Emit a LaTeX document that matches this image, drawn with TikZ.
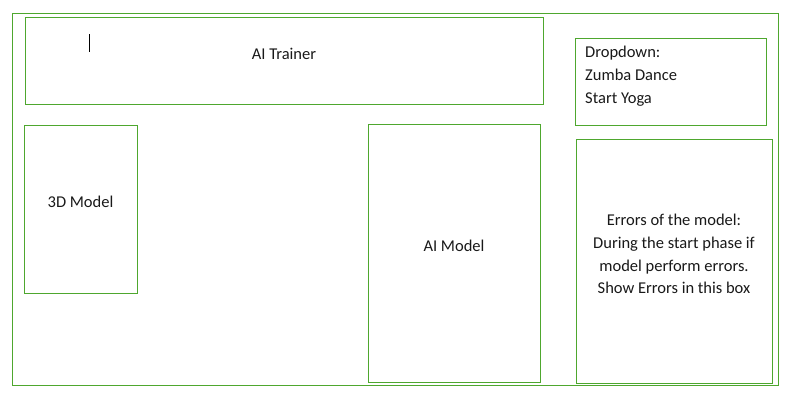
\documentclass[tikz,border=0pt]{standalone}
\usepackage{fontspec}
\setmainfont{Carlito}
\usetikzlibrary{positioning}
\definecolor{boxgreen}{HTML}{4EA72E}

\begin{document}
\begin{tikzpicture}[x=1pt, y=-1pt,
                   panel/.style={draw=boxgreen, line width=1pt, inner sep=0pt},
                   label/.style={font=\fontsize{16.5}{22.7}\selectfont, text=black!90, inner sep=0pt}]
          \useasboundingbox (0,0) rectangle (796,400);
          \node[panel, minimum width=766pt, minimum height=372pt] (frame) at (395,199) {};
          \node[panel, minimum width=518pt, minimum height=87pt] (trainer) at (284,60.5) {};
          \node[panel, minimum width=113pt, minimum height=168pt] (model3d) at (80.5,209) {};
          \node[panel, minimum width=172pt, minimum height=258pt] (aimodel) at (454,253) {};
          \node[panel, minimum width=191pt, minimum height=87pt] (dropdown) at (670.5,81.5) {};
          \node[panel, minimum width=196pt, minimum height=244pt] (errors) at (674,261) {};
          % labels
          \node[label] (trainertext) at (284,54) {AI Trainer};
          \node[label] (model3dtext) at (80.5,202) {3D Model};
          \node[label] (aimodeltext) at (454,246) {AI Model};
          \node[label, anchor=north west, align=left] (dropdowntext) at (585,46)
            {Dropdown:\\Zumba Dance\\Start Yoga};
          \node[label, align=center] (errorstext) at (674,254)
            {Errors of the model:\\During the start phase if\\model perform errors.\\Show Errors in this box};
          % text cursor
          \coordinate (cursortop) at (89,34);
          \coordinate (cursorbot) at (89,52);
          \draw[line width=1pt] (cursortop) -- (cursorbot);
        \end{tikzpicture}
\end{document}
